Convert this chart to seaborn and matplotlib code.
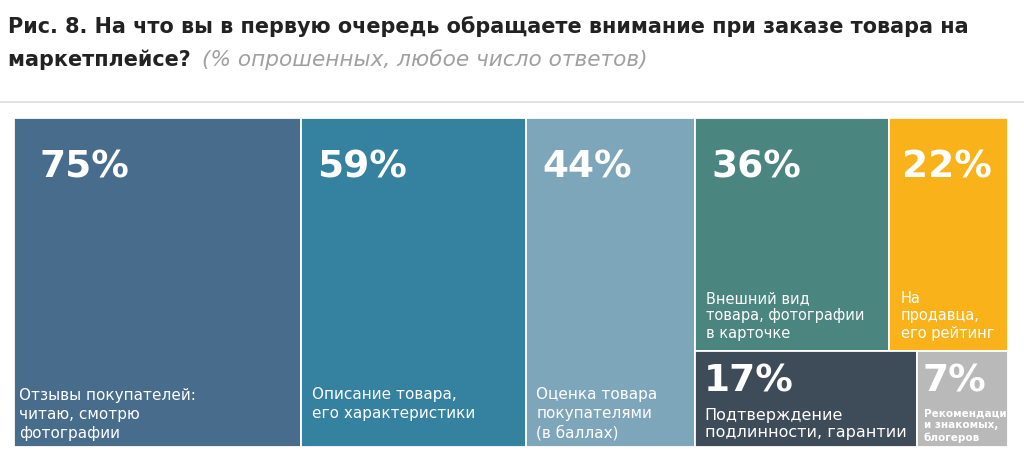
import matplotlib
matplotlib.use("Agg")
import matplotlib.pyplot as plt
import seaborn as sns
from matplotlib.patches import Rectangle

# ---- data ----
categories = [
    "Отзывы покупателей:\nчитаю, смотрю\nфотографии",
    "Описание товара,\nего характеристики",
    "Оценка товара\nпокупателями\n(в баллах)",
    "Внешний вид\nтовара, фотографии\nв карточке",
    "На\nпродавца,\nего рейтинг",
    "Подтверждение\nподлинности, гарантии",
    "Рекомендаци\nи знакомых,\nблогеров",
]
values = [75, 59, 44, 36, 22, 17, 7]
colors = ["#476c8c", "#3581a0", "#7ea6ba", "#4a857f", "#f9b21a", "#3e4b58", "#b9b9b9"]

title_line1 = "Рис. 8. На что вы в первую очередь обращаете внимание при заказе товара на"
title_line2 = "маркетплейсе?"
subtitle = "(% опрошенных, любое число ответов)"

# ---- style ----
pct_dx = [25, 16, 16, 17, 13, 9, 6]          # px from left edge
pct_dy = [50, 50, 50, 50, 50, 31, 31]        # px from top edge (center)
lab_dx = [5, 11, 10, 11, 12, 10, 7]
lab_dy = [6, 26, 6, 10, 10, 7, 4]            # px from bottom edge
lab_size = [11, 11, 11, 10.5, 10.5, 11.5, 7.5]
lab_weight = ["normal"] * 6 + ["bold"]
lab_spacing = [1.35, 1.35, 1.35, 1.2, 1.2, 1.2, 1.25]

sns.set_theme(style="white")
plt.rcParams["font.family"] = ["DejaVu Sans"]

W, H = 1024, 453
fig = plt.figure(figsize=(W / 100, H / 100), dpi=100)
fig.patch.set_facecolor("white")

# treemap axes
left_px, top_px, right_px, bot_px = 14, 118, 1008, 447
ax = fig.add_axes([left_px / W, 1 - bot_px / H, (right_px - left_px) / W, (bot_px - top_px) / H])
total = sum(values)
ax.set_xlim(0, total)
ax.set_ylim(1, 0)
ax.axis("off")

# layout: first three full-height columns, rest as two rows
rects = []
x = 0.0
for i in range(3):
    rects.append((x, 0.0, values[i], 1.0))
    x += values[i]
rest = sum(values[3:])
rows = [[3, 4], [5, 6]]
y = 0.0
for row in rows:
    rs = sum(values[i] for i in row)
    h = rs / rest
    xx = x
    for i in row:
        w = values[i] / rs * rest
        rects.append((xx, y, w, h))
        xx += w
    y += h

for i, (rx, ry, rw, rh) in enumerate(rects):
    ax.add_patch(Rectangle((rx, ry), rw, rh, facecolor=colors[i],
                           edgecolor="white", linewidth=1.3))
    ax.annotate(f"{values[i]}%", xy=(rx, ry), xytext=(pct_dx[i], -pct_dy[i]),
                textcoords="offset pixels", ha="left", va="center",
                fontsize=27, fontweight="bold", color="white")
    ax.annotate(categories[i], xy=(rx, ry + rh), xytext=(lab_dx[i], lab_dy[i]),
                textcoords="offset pixels", ha="left", va="bottom",
                fontsize=lab_size[i], fontweight=lab_weight[i], color="white",
                linespacing=lab_spacing[i])

# title (fit first line to reference width)
t1 = fig.text(8 / W, 1 - 27 / H, title_line1, ha="left", va="center", fontsize=15,
              fontweight="bold", color="#222222")
fig.canvas.draw()
w1 = t1.get_window_extent().width
tsize = 15 * 960 / w1
t1.set_fontsize(tsize)
t2 = fig.text(8 / W, 1 - 60 / H, title_line2 + " ", ha="left", va="center", fontsize=tsize,
              fontweight="bold", color="#222222")
fig.canvas.draw()
bb = t2.get_window_extent()
ts = fig.text(202 / W, 1 - 60 / H, subtitle, ha="left", va="center", fontsize=tsize,
              style="italic", color="#a0a0a0")
fig.canvas.draw()
ws = ts.get_window_extent().width
ts.set_fontsize(min(tsize * 448 / ws, tsize * 1.08))

# separator line
fig.add_artist(plt.Line2D([0, 1], [1 - 102 / H, 1 - 102 / H], color="#dddddd", linewidth=1.2))

fig.savefig("out.png", dpi=100)
